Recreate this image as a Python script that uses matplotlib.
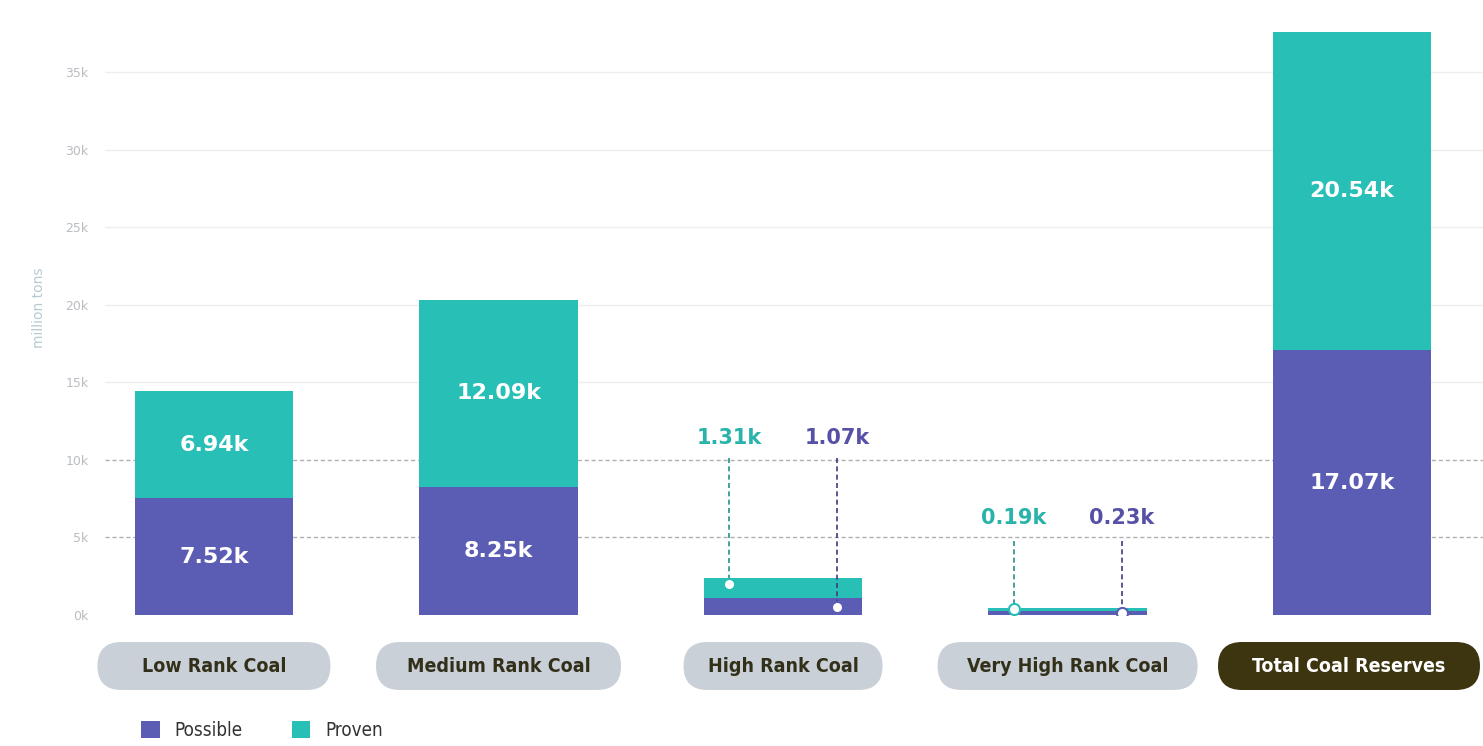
import matplotlib
matplotlib.use("Agg")
import matplotlib.pyplot as plt
import matplotlib.transforms as mtransforms
from matplotlib.patches import FancyBboxPatch, Patch
import numpy as np

categories = ["Low Rank Coal", "Medium Rank Coal", "High Rank Coal", "Very High Rank Coal", "Total Coal Reserves"]
possible = [7.52, 8.25, 1.07, 0.23, 17.07]   # thousand million tons
proven = [6.94, 12.09, 1.31, 0.19, 20.54]
yticks = [0, 5, 10, 15, 20, 25, 30, 35]
ytick_labels = ["0k", "5k", "10k", "15k", "20k", "25k", "30k", "35k"]

PURPLE = "#5b5cb4"
TEAL = "#27bfb6"
TEAL_TXT = "#2ab3aa"
PURPLE_TXT = "#5651a6"
PILL = "#c9d0d8"
PILL_TXT = "#33301a"
DARK_PILL = "#3d3510"

W, H = 1483, 746
fig = plt.figure(figsize=(W / 100, H / 100), dpi=100)
fig.patch.set_facecolor("white")
ax = fig.add_axes([105 / W, (H - 615) / H, 1 - 105 / W, 615 / H])
ax.set_facecolor("none")

x = np.arange(len(categories))
bw = 0.556
ax.bar(x, possible, width=bw, color=PURPLE, zorder=3)
ax.bar(x, proven, width=bw, bottom=possible, color=TEAL, zorder=3)

ax.set_xlim(-0.383, 4.46)
ax.set_ylim(0, 39.65)
for s in ax.spines.values():
    s.set_visible(False)
ax.set_xticks([])
ax.set_yticks(yticks)
ax.set_yticklabels(ytick_labels)
ax.tick_params(axis="y", length=0, pad=12, labelsize=9, labelcolor="#b9bdc2")
ax.set_ylabel("million tons", color="#b8c9d2", fontsize=10, labelpad=14)

for v in yticks[1:]:
    if v in (5, 10):
        ax.axhline(v, color="#b0b0b0", lw=1.0, ls=(0, (3, 2)), zorder=1)
    else:
        ax.axhline(v, color="#eeeeee", lw=1.0, zorder=1)

lab_font = dict(family=["DejaVu Sans"], fontweight="bold", fontsize=15)
big_font = dict(family=["DejaVu Sans"], fontweight="bold", fontsize=16)
# labels inside large bars
for i in [0, 1, 4]:
    ax.text(x[i], possible[i] / 2, f"{possible[i]:.2f}k", ha="center", va="center",
            color="white", zorder=5, **big_font)
    ax.text(x[i], possible[i] + proven[i] / 2, f"{proven[i]:.2f}k", ha="center", va="center",
            color="white", zorder=5, **big_font)

# leader labels for small bars
leader = {2: (11.4, 10.1), 3: (6.25, 4.8)}
for i, (ly, ltop) in leader.items():
    # proven (teal) on the left, possible (purple) on the right
    xt = x[i] - 0.19
    xp = x[i] + 0.19
    yt = possible[i] + proven[i] * (0.7 if i == 2 else 0.95)
    yp = possible[i] * 0.5
    ax.text(xt, ly, f"{proven[i]:.2f}k", ha="center", va="center", color=TEAL_TXT, zorder=5, **lab_font)
    ax.text(xp, ly, f"{possible[i]:.2f}k", ha="center", va="center", color=PURPLE_TXT, zorder=5, **lab_font)
    ax.plot([xt, xt], [ltop, yt], color="#2a8f8a", lw=1.2, ls=(0, (3, 2)), zorder=4)
    ax.plot([xp, xp], [ltop, yp], color="#3f3c80", lw=1.2, ls=(0, (3, 2)), zorder=4)
    ax.plot([xt], [yt], marker="o", ms=8, mfc="white", mec=TEAL, mew=1.5, zorder=6)
    ax.plot([xp], [yp], marker="o", ms=8, mfc="white", mec=PURPLE, mew=1.5, zorder=6)

# category pills
ident = mtransforms.IdentityTransform()
pill_cy = H - 666
pill_w = [233, 245, 199, 260, 262]
for i, c in enumerate(categories):
    px = ax.transData.transform((x[i], 0))[0]
    last = i == len(categories) - 1
    if last:
        px = min(px, W - pill_w[i] / 2 - 3)
    fig.text(px / W, pill_cy / H, c, ha="center", va="center",
             family="DejaVu Sans", stretch="condensed", fontweight="bold",
             fontsize=14, color="white" if last else PILL_TXT, zorder=5)
    pw = pill_w[i]
    ph = 48
    patch = FancyBboxPatch((px - pw / 2, pill_cy - ph / 2), pw, ph,
                           boxstyle="round,pad=0,rounding_size=24",
                           facecolor=DARK_PILL if last else PILL, edgecolor="none",
                           transform=ident, zorder=4)
    fig.add_artist(patch)

handles = [Patch(facecolor=PURPLE), Patch(facecolor=TEAL)]
fig.legend(handles, ["Possible", "Proven"], loc="lower left", bbox_to_anchor=(124 / W, -0.014),
           ncol=2, frameon=False, handlelength=1.0, handleheight=1.0, handletextpad=0.8,
           columnspacing=2.6, prop=dict(family="DejaVu Sans", stretch="condensed", size=13.5),
           labelcolor="#333333")

fig.savefig("out.png", dpi=100)
